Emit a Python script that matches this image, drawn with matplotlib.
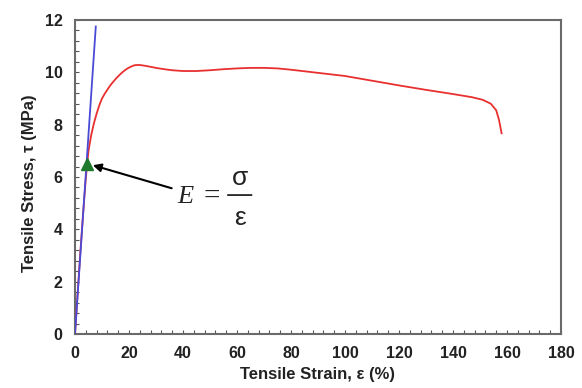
import matplotlib
matplotlib.use("Agg")
import matplotlib.pyplot as plt
from matplotlib.ticker import MultipleLocator

# Data
strain = [0, 1, 2, 3, 4, 5, 6, 7, 8, 9, 10, 11, 12, 13, 14, 15, 16, 17, 18, 19,
          20, 21, 22, 23, 24, 26, 28, 30, 33, 36, 40, 45, 50, 55, 60, 65, 70, 75,
          80, 90, 100, 110, 120, 130, 140, 147, 151, 154, 156, 157, 158]
stress = [0, 1.6, 3.15, 4.6, 5.95, 7.0, 7.6, 8.05, 8.42, 8.74, 9.0, 9.18, 9.34,
          9.49, 9.62, 9.74, 9.85, 9.95, 10.04, 10.12, 10.18, 10.23, 10.27, 10.28,
          10.28, 10.25, 10.21, 10.17, 10.12, 10.08, 10.05, 10.05, 10.08, 10.12,
          10.15, 10.17, 10.17, 10.15, 10.1, 9.98, 9.86, 9.68, 9.5, 9.33, 9.17,
          9.05, 8.95, 8.8, 8.55, 8.2, 7.67]
modulus_x = [0, 7.7]
modulus_y = [0, 11.75]
marker_x = [4.3]
marker_y = [6.5]
xticks = [0, 20, 40, 60, 80, 100, 120, 140, 160, 180]
yticks = [0, 2, 4, 6, 8, 10, 12]

plt.rcParams['font.family'] = ['Liberation Sans', 'DejaVu Sans']

fig = plt.figure(figsize=(5.82, 3.88), dpi=100)
ax = fig.add_axes([75/582, 1-334/388, 486/582, 314/388])

ax.plot(strain, stress, color='#e8302f', lw=1.3, zorder=3)
ax.plot(modulus_x, modulus_y, color='#4a4ad8', lw=1.3, zorder=4)
ax.plot(marker_x, marker_y, marker='^', color='#1f7a2e', markersize=9, ls='none', zorder=5)

ax.annotate('', xy=(6.6, 6.45), xytext=(35.8, 5.57),
            arrowprops=dict(arrowstyle='-|>', color='black', lw=1.5,
                            mutation_scale=12, shrinkA=0, shrinkB=0))

# Equation E = sigma / epsilon
eq_color = '#222222'
serif = ['Liberation Serif', 'DejaVu Serif']
ax.text(41.0, 4.99, 'E', fontsize=19, family=serif,
        style='italic', ha='center', va='baseline', color=eq_color)
ax.text(50.6, 4.99, '=', fontsize=21, family=serif,
        ha='center', va='baseline', color=eq_color)
ax.text(61.0, 5.69, 'σ', fontsize=19, ha='center', va='baseline', color=eq_color)
ax.text(61.1, 4.17, 'ε', fontsize=19, ha='center', va='baseline', color=eq_color)
ax.annotate('', xy=(65.4, 5.31), xytext=(56.6, 5.31),
            arrowprops=dict(arrowstyle='-', color=eq_color, lw=1.3,
                            shrinkA=0, shrinkB=0))

ax.set_xlim(0, 180)
ax.set_ylim(0, 12)
ax.set_xticks(xticks)
ax.set_yticks(yticks)
ax.xaxis.set_minor_locator(MultipleLocator(4))
ax.yaxis.set_minor_locator(MultipleLocator(0.4))
ax.tick_params(which='both', direction='in', length=3, width=0.8, color='#555555')
ax.tick_params(which='major', labelsize=11.5, pad=9)
ax.tick_params(top=False, right=False, which='both')
for lab in ax.get_xticklabels() + ax.get_yticklabels():
    lab.set_fontweight('bold')
    lab.set_color('#222222')
for s in ax.spines.values():
    s.set_color('#6a6a6a')
    s.set_linewidth(1.5)

ax.set_xlabel('Tensile Strain, ε (%)', fontsize=12, fontweight='bold', color='#222222', labelpad=4)
ax.set_ylabel('Tensile Stress, τ (MPa)', fontsize=12, fontweight='bold', color='#222222')
ax.yaxis.set_label_coords(-0.079, 0.479)

fig.savefig('out.png', dpi=100)
